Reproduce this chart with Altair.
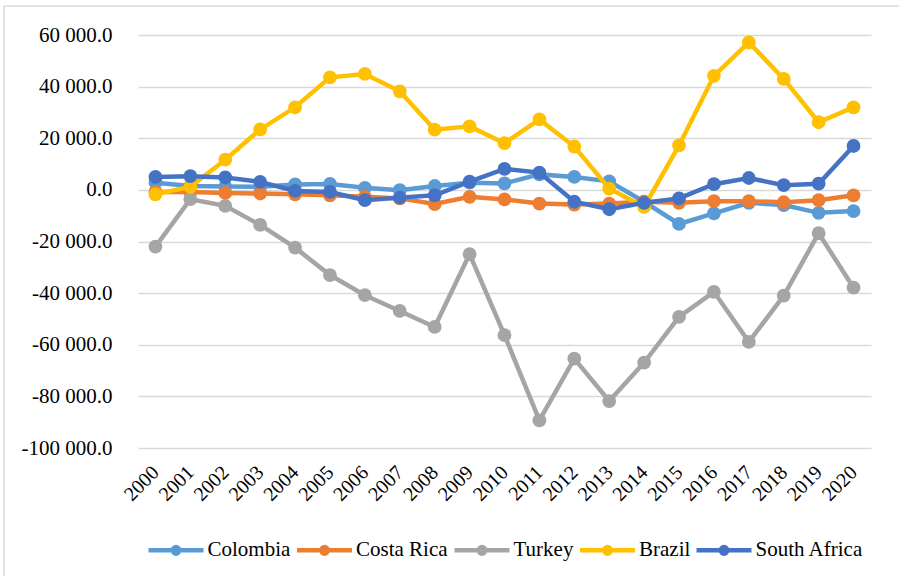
import altair as alt
import pandas as pd

# Annual values per country, 2000-2020
years = [str(y) for y in range(2000, 2021)]
colombia = [2800, 1500, 1300, 1200, 2100, 2300, 800, -100, 1500, 2800, 2500,
            6000, 5000, 3300, -4600, -13200, -9100, -5000, -5900, -8900, -8200]
costa_rica = [-800, -800, -1200, -1400, -1700, -2100, -2700, -3300, -5500, -2700, -3700,
              -5300, -5700, -5300, -4600, -5000, -4400, -4400, -4800, -4000, -2100]
turkey = [-22000, -3600, -6200, -13600, -22400, -33000, -40800, -46900, -53100, -24900, -56300,
          -89300, -65400, -81800, -66900, -49200, -39500, -58900, -41000, -16800, -37900]
brazil = [-1700, 1200, 11700, 23400, 32000, 43600, 44900, 38200, 23300, 24600, 18100,
          27300, 16800, 500, -6600, 17200, 44200, 57100, 43000, 26200, 32000]
south_africa = [5000, 5300, 4800, 3100, -400, -800, -4000, -3000, -2100, 3200, 8100,
                6700, -4600, -7500, -5000, -3300, 2200, 4600, 1800, 2400, 17000]

series = ["Colombia", "Costa Rica", "Turkey", "Brazil", "South Africa"]
colors = ["#5B9BD5", "#ED7D31", "#A5A5A5", "#FFC000", "#4472C4"]
values = [colombia, costa_rica, turkey, brazil, south_africa]

rows = []
for name, vals in zip(series, values):
    for yr, v in zip(years, vals):
        rows.append({"Year": yr, "Country": name, "Value": v})
df = pd.DataFrame(rows)

FONT = "Liberation Serif"
W, H = 733, 413

# legend glyph: a line with a dot in the middle
legend_glyph = "M-1,0L1,0M-0.12,0A0.12,0.12 0 1,1 0.12,0A0.12,0.12 0 1,1 -0.12,0"

color = alt.Color(
    "Country:N",
    scale=alt.Scale(domain=series, range=colors),
    legend=alt.Legend(
        title=None,
        orient="none",
        legendX=8,
        legendY=485,
        direction="horizontal",
        columns=5,
        symbolType=legend_glyph,
        symbolSize=3025,
        symbolStrokeWidth=4.5,
        symbolOpacity=1,
        labelOffset=1.5,
        columnPadding=-3.5,
        padding=0,
    ),
)

x = alt.X(
    "Year:N",
    sort=years,
    scale=alt.Scale(padding=0.5),
    axis=alt.Axis(
        title=None,
        labelAngle=315,
        labelAlign="right",
        labelBaseline="middle",
        labelPadding=21,
        ticks=False,
        domain=False,
        grid=False,
    ),
)

label_expr = "replace(replace(format(datum.value, ',.1f'), ',', ' '), '\u2212', '-')"
y = alt.Y(
    "Value:Q",
    scale=alt.Scale(domain=[-100000, 60000], nice=False, zero=False),
    axis=alt.Axis(
        title=None,
        values=list(range(-100000, 60001, 20000)),
        labelExpr=label_expr,
        labelPadding=26,
        labelFontSize=21,
        ticks=False,
        domain=False,
        grid=True,
        gridColor="#D9D9D9",
        gridWidth=1.5,
    ),
)

layers = []
for name in series:
    layers.append(
        alt.Chart(df)
        .transform_filter(alt.datum.Country == name)
        .mark_line(
            strokeWidth=4.5,
            point=alt.OverlayMarkDef(filled=True, size=190, opacity=1),
        )
        .encode(x=x, y=y, color=color)
    )

# chart-area frame (top and left edges)
frame_src = alt.Data(values=[{"k": 0}])
frame_top = alt.Chart(frame_src).mark_rule(color="#D9D9D9", strokeWidth=1.5).encode(
    x=alt.value(-134), x2=alt.value(W + 40), y=alt.value(-29)
)
frame_left = alt.Chart(frame_src).mark_rule(color="#D9D9D9", strokeWidth=1.5).encode(
    x=alt.value(-134), y=alt.value(-29), y2=alt.value(H + 140)
)

chart = (
    alt.layer(*layers, frame_top, frame_left)
    .properties(
        width=W,
        height=H,
        padding={"left": 138, "top": 35, "right": 28, "bottom": 128},
        autosize=alt.AutoSizeParams(type="none"),
        background="#FFFFFF",
    )
    .configure(font=FONT)
    .configure_view(stroke=None)
    .configure_axis(labelFont=FONT, labelFontSize=20, labelColor="#000000")
    .configure_legend(labelFont=FONT, labelFontSize=21, labelColor="#000000")
)

chart.save("out.html", embed_options={"renderer": "svg", "actions": False})
